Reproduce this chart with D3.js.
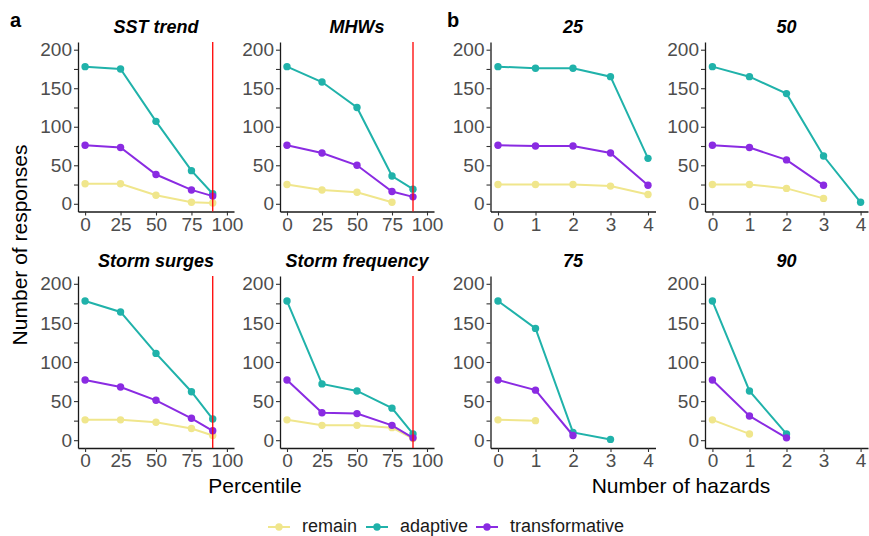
<!DOCTYPE html>
<html>
<head>
<meta charset="utf-8">
<script src="https://cdn.jsdelivr.net/npm/d3@7"></script>
<style>
  body { margin: 0; background: #fff; }
  svg { font-family: "Liberation Sans", Arial, sans-serif; }
</style>
</head>
<body>
<script>
const w = 869;
const h = 536;

// categories
const seriesNames = ["remain", "adaptive", "transformative"];
const seriesColors = ["#F0E68C", "#20B2AA", "#8A2BE2"];
const percentiles = [0, 25, 50, 75, 90];
const hazards = [0, 1, 2, 3, 4];
const percentileTicks = [0, 25, 50, 75, 100];
const hazardTicks = [0, 1, 2, 3, 4];
const yTicks = [0, 25, 50, 75, 100, 125, 150, 175, 200];

// panel a: rows are remain, adaptive, transformative (null = no point)
const sstTrend = [
  [26, 26, 11, 2, 1],
  [178, 175, 107, 43, 13],
  [76, 73, 38, 18, 10]
];
const mhws = [
  [25, 18, 15, 2, null],
  [178, 158, 125, 36, 19],
  [76, 66, 50, 16, 9]
];
const stormSurges = [
  [26, 26, 23, 15, 6],
  [178, 164, 111, 62, 27],
  [77, 68, 51, 28, 12]
];
const stormFrequency = [
  [26, 19, 19, 16, 2],
  [178, 72, 63, 41, 8],
  [77, 35, 34, 19, 3]
];

// panel b: number of hazards at each percentile
const hz25 = [
  [25, 25, 25, 23, 12],
  [178, 176, 176, 165, 59],
  [76, 75, 75, 66, 24]
];
const hz50 = [
  [25, 25, 20, 7, null],
  [178, 165, 143, 62, 2],
  [76, 73, 57, 24, null]
];
const hz75 = [
  [26, 25, null, null, null],
  [178, 143, 10, 1, null],
  [77, 64, 6, null, null]
];
const hz90 = [
  [26, 8, null, null, null],
  [178, 63, 8, null, null],
  [77, 31, 3, null, null]
];

const panels = [
  { title: "SST trend", values: sstTrend, xs: percentiles, kind: "pct", col: 0, row: 0 },
  { title: "MHWs", values: mhws, xs: percentiles, kind: "pct", col: 1, row: 0 },
  { title: "Storm surges", values: stormSurges, xs: percentiles, kind: "pct", col: 0, row: 1 },
  { title: "Storm frequency", values: stormFrequency, xs: percentiles, kind: "pct", col: 1, row: 1 },
  { title: "25", values: hz25, xs: hazards, kind: "hz", col: 2, row: 0 },
  { title: "50", values: hz50, xs: hazards, kind: "hz", col: 3, row: 0 },
  { title: "75", values: hz75, xs: hazards, kind: "hz", col: 2, row: 1 },
  { title: "90", values: hz90, xs: hazards, kind: "hz", col: 3, row: 1 }
];

// plot area extents
const colX = [[78, 234], [280, 434], [490.5, 655.5], [705, 868]];
const rowY = [[42, 211.5], [276, 448]];

const svg = d3.select("body").append("svg").attr("width", w).attr("height", h);

panels.forEach((p) => {
  const [x0, x1] = colX[p.col];
  const [y0, y1] = rowY[p.row];
  const x = d3.scaleLinear()
    .domain(p.kind === "pct" ? [-5, 105] : [-0.2, 4.2])
    .range([x0, x1]);
  const y = d3.scaleLinear().domain([-10, 210]).range([y1, y0]);

  const g = svg.append("g");

  // axes
  const yAxis = g.append("g")
    .attr("transform", `translate(${x0},0)`)
    .call(d3.axisLeft(y).tickValues(yTicks).tickSize(4).tickSizeOuter(0).tickPadding(2)
      .tickFormat((d) => (d % 50 === 0 ? d : "")));
  const xAxis = g.append("g")
    .attr("transform", `translate(0,${y1})`)
    .call(d3.axisBottom(x).tickValues(p.kind === "pct" ? percentileTicks : hazardTicks)
      .tickFormat(d3.format("d"))
      .tickSize(4).tickSizeOuter(0).tickPadding(2));
  [yAxis, xAxis].forEach((a) => {
    a.select(".domain").attr("stroke", "#1a1a1a").attr("stroke-width", 1.3);
    a.selectAll(".tick line").attr("stroke", "#333").attr("stroke-width", 1.1);
    a.selectAll(".tick text").attr("fill", "#4D4D4D").attr("font-size", "19px")
      .attr("font-family", "Liberation Sans, Arial, sans-serif");
  });

  // series: lines then points
  const line = d3.line()
    .defined((d) => d.v !== null)
    .x((d) => x(d.x))
    .y((d) => y(d.v));

  p.values.forEach((vals, si) => {
    const pts = vals.map((v, i) => ({ x: p.xs[i], v: v }));
    g.append("path")
      .datum(pts)
      .attr("d", line)
      .attr("fill", "none")
      .attr("stroke", seriesColors[si])
      .attr("stroke-width", 2);
    g.selectAll(null)
      .data(pts.filter((d) => d.v !== null))
      .enter()
      .append("circle")
      .attr("cx", (d) => x(d.x))
      .attr("cy", (d) => y(d.v))
      .attr("r", 3.7)
      .attr("fill", seriesColors[si]);
  });

  // 90th percentile marker
  if (p.kind === "pct") {
    g.append("line")
      .attr("x1", x(90)).attr("x2", x(90))
      .attr("y1", y0).attr("y2", y1)
      .attr("stroke", "#FF0000")
      .attr("stroke-width", 1.3);
  }

  g.append("text")
    .attr("x", (x0 + x1) / 2)
    .attr("y", y0 - 9)
    .attr("text-anchor", "middle")
    .attr("font-size", "18px")
    .attr("font-weight", "bold")
    .attr("font-style", "italic")
    .attr("fill", "#000")
    .text(p.title);
});

// panel tags
svg.append("text").attr("x", 10).attr("y", 27).attr("font-size", "20px")
  .attr("font-weight", "bold").text("a");
svg.append("text").attr("x", 447).attr("y", 27).attr("font-size", "20px")
  .attr("font-weight", "bold").text("b");

// axis titles
svg.append("text")
  .attr("transform", "translate(27,245) rotate(-90)")
  .attr("text-anchor", "middle")
  .attr("font-size", "21px")
  .text("Number of responses");
svg.append("text").attr("x", 255).attr("y", 493).attr("text-anchor", "middle")
  .attr("font-size", "21px").text("Percentile");
svg.append("text").attr("x", 681).attr("y", 493).attr("text-anchor", "middle")
  .attr("font-size", "21px").text("Number of hazards");

// legend
const legendX = [268, 366, 476];
const legend = svg.selectAll(".legend")
  .data(seriesNames)
  .enter()
  .append("g")
  .attr("class", "legend")
  .attr("transform", (d, i) => `translate(${legendX[i]},527)`);
legend.append("line")
  .attr("x1", 0).attr("x2", 22).attr("y1", 0).attr("y2", 0)
  .attr("stroke", (d, i) => seriesColors[i])
  .attr("stroke-width", 2);
legend.append("circle")
  .attr("cx", 11).attr("cy", 0).attr("r", 3.7)
  .attr("fill", (d, i) => seriesColors[i]);
legend.append("text")
  .attr("x", 34).attr("y", 5)
  .attr("font-size", "18px")
  .attr("fill", "#1a1a1a")
  .text((d) => d);
</script>
</body>
</html>
